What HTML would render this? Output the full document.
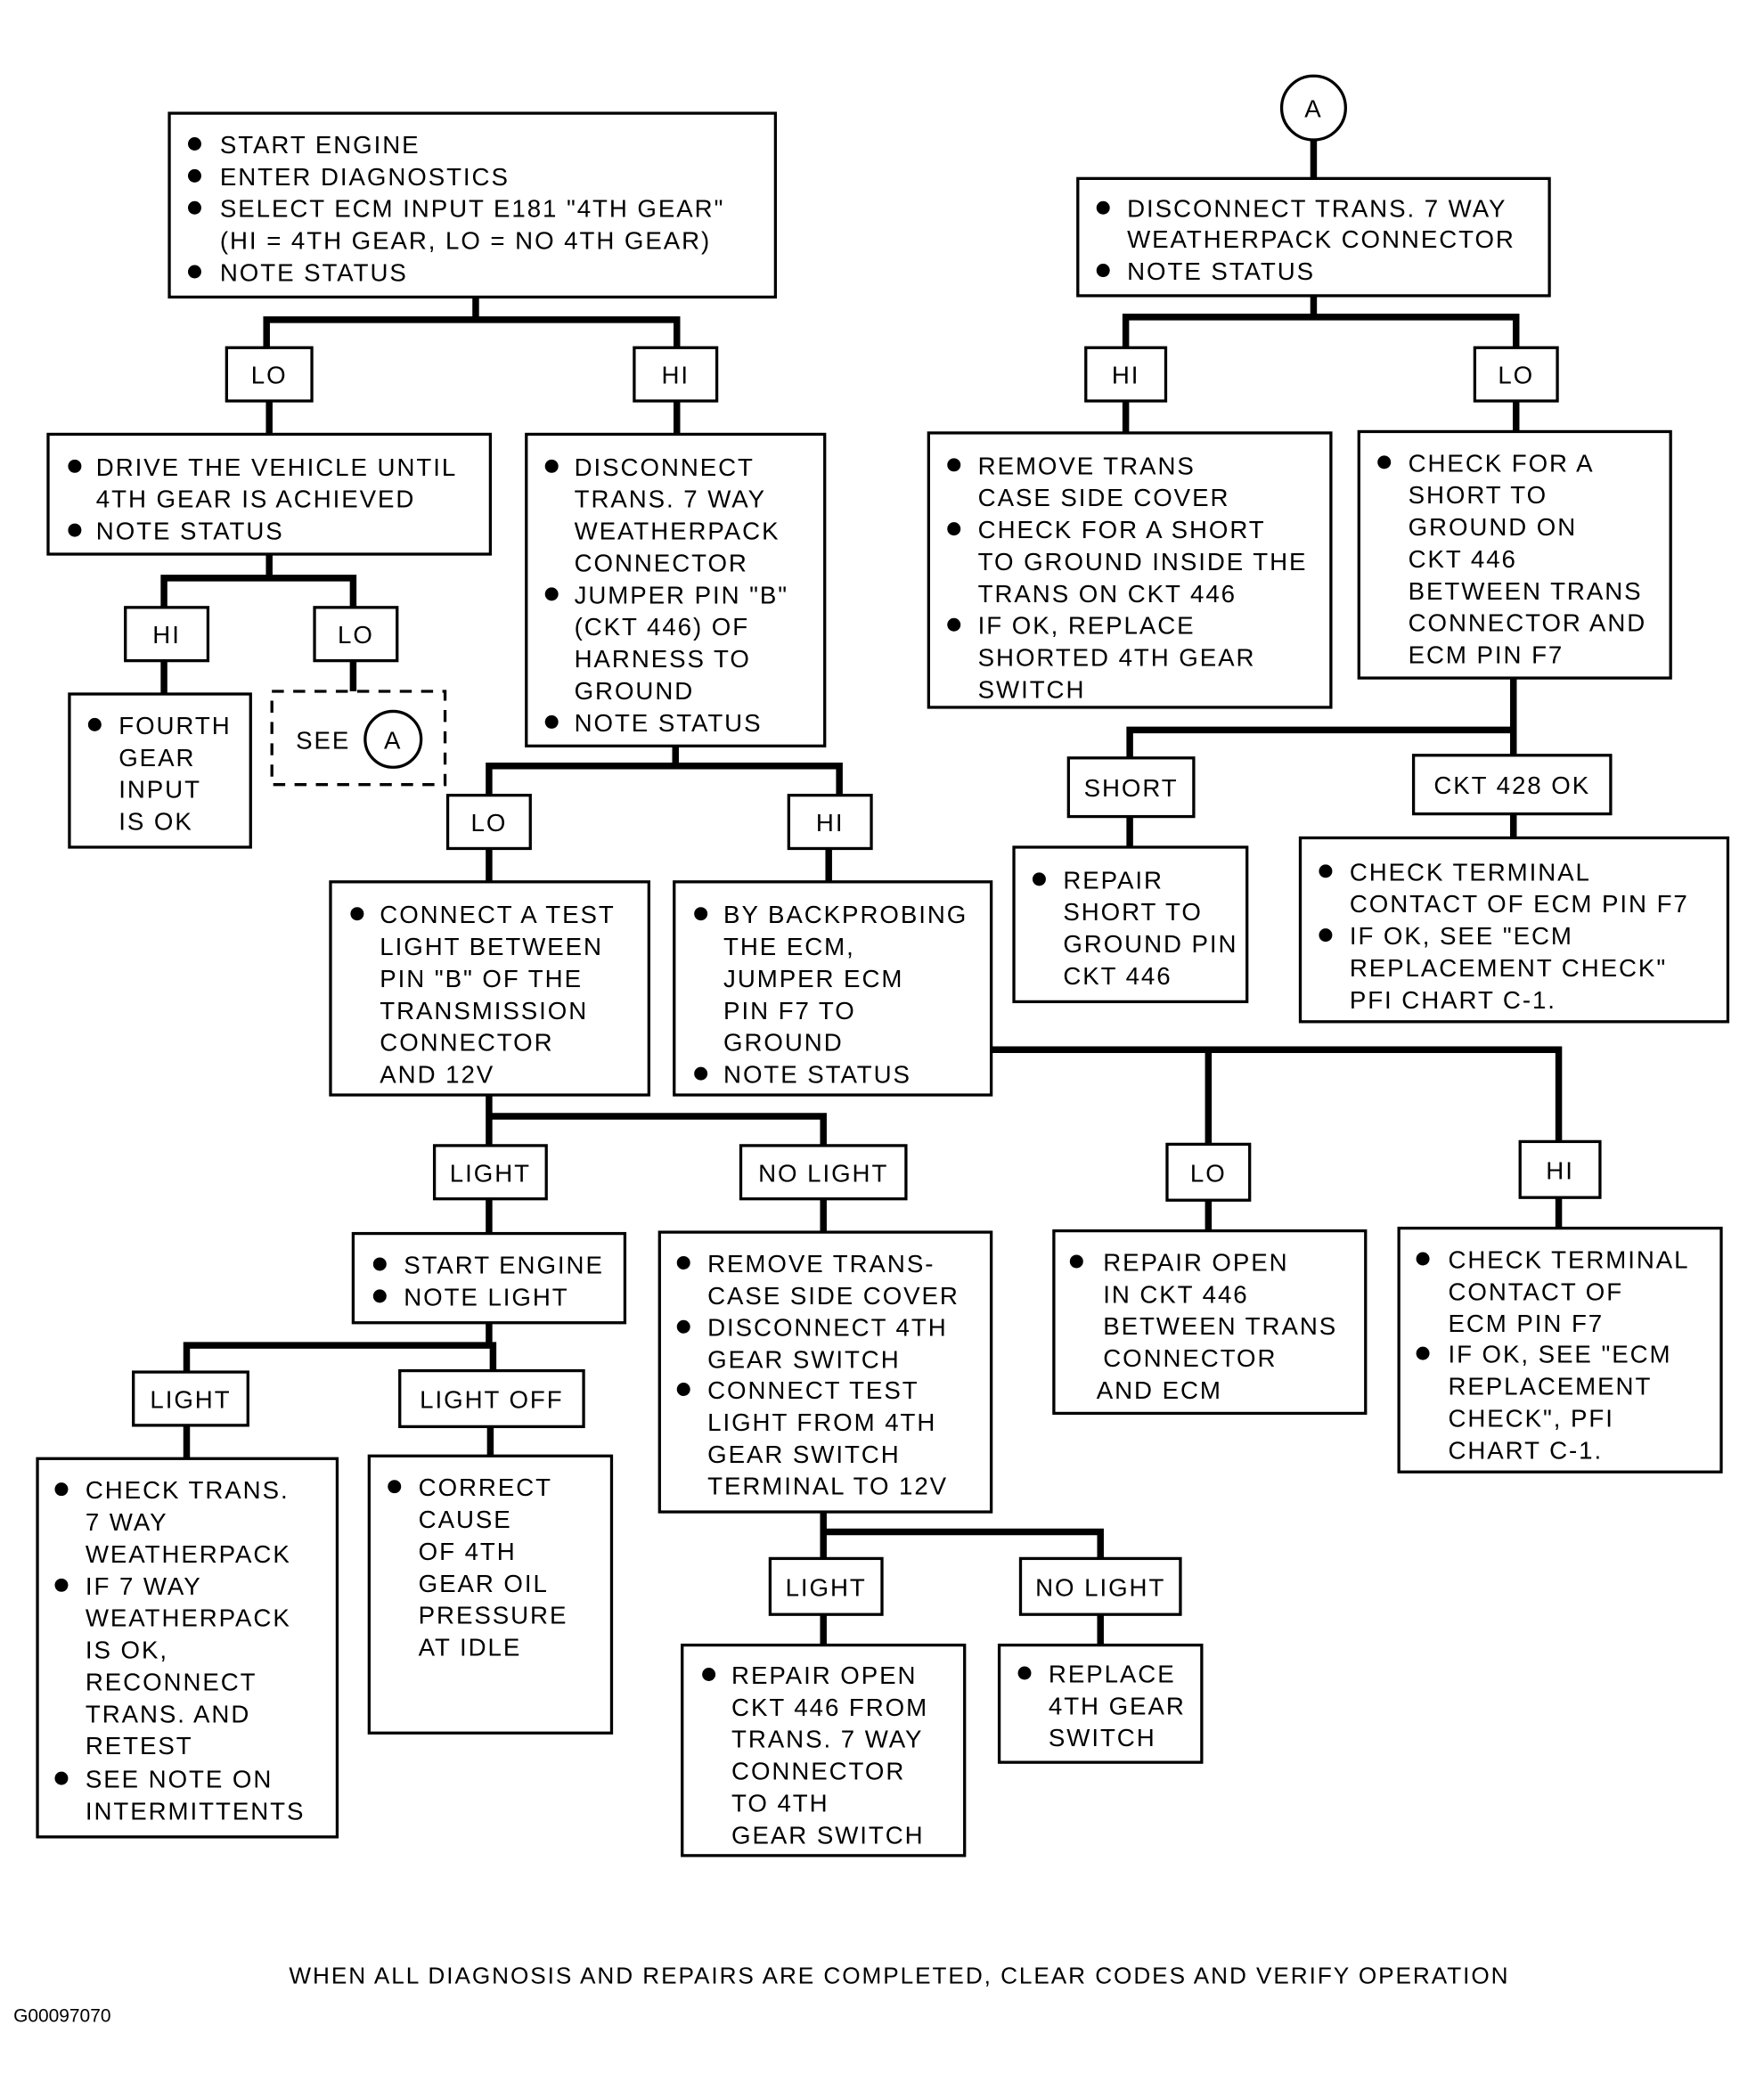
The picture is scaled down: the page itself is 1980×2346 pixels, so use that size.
<!DOCTYPE html>
<html><head><meta charset="utf-8"><style>
html,body{margin:0;padding:0;background:#fff;}
svg{display:block;}
text{font-family:"Liberation Sans",sans-serif;font-size:18.5px;letter-spacing:1.3px;fill:#000;}
.b{fill:none;stroke:#000;stroke-width:2.2;}
.c{fill:none;stroke:#000;stroke-width:5;}
</style></head><body>
<svg width="1980" height="2346" viewBox="0 0 1324 1569" xmlns="http://www.w3.org/2000/svg">
<rect width="1324" height="1569" fill="#fff"/>
<!-- connectors -->
<g class="c">
<path d="M357 223V240M200 261V240H508V261"/>
<path d="M202 301V326"/>
<path d="M202 416V434M123 456V434H265V456"/>
<path d="M123 496V521M265 496V519"/>
<path d="M508 301V326"/>
<path d="M507 560V575M367 597V575H630V597"/>
<path d="M367 637V662M622 637V662"/>
<path d="M367 822V838M367 860V838H618V860"/>
<path d="M744 788H1170V857M907 788V859"/>
<path d="M907 901V924M1170 899V922"/>
<path d="M367 900V926M618 900V925"/>
<path d="M367 993V1010M140 1030V1010H370V1029"/>
<path d="M140 1070V1095M368 1071V1093"/>
<path d="M618 1135V1150M618 1170V1150H826V1170"/>
<path d="M618 1212V1235M826 1212V1235"/>
<path d="M986 105V134M986 222V238M845 261V238H1138V261"/>
<path d="M845 301V325M1138 301V324"/>
<path d="M1136 509V548M848 569V548H1136V567"/>
<path d="M848 613V636M1136 611V629"/>
</g>
<!-- boxes -->
<g class="b">
<rect x="127" y="85" width="455" height="138"/>
<rect x="170" y="261" width="64" height="40"/>
<rect x="476" y="261" width="62" height="40"/>
<rect x="36" y="326" width="332" height="90"/>
<rect x="94" y="456" width="62" height="40"/>
<rect x="236" y="456" width="62" height="40"/>
<rect x="52" y="521" width="136" height="115"/>
<rect x="204" y="519" width="130" height="70" stroke-dasharray="9 7"/>
<circle cx="295" cy="555" r="21"/>
<rect x="395" y="326" width="224" height="234"/>
<rect x="336" y="597" width="62" height="40"/>
<rect x="592" y="597" width="62" height="40"/>
<rect x="248" y="662" width="239" height="160"/>
<rect x="506" y="662" width="238" height="160"/>
<rect x="326" y="860" width="84" height="40"/>
<rect x="556" y="860" width="124" height="40"/>
<rect x="876" y="859" width="62" height="42"/>
<rect x="1141" y="857" width="60" height="42"/>
<rect x="791" y="924" width="234" height="137"/>
<rect x="1050" y="922" width="242" height="183"/>
<rect x="265" y="926" width="204" height="67"/>
<rect x="100" y="1030" width="86" height="40"/>
<rect x="300" y="1029" width="138" height="42"/>
<rect x="28" y="1095" width="225" height="284"/>
<rect x="277" y="1093" width="182" height="208"/>
<rect x="495" y="925" width="249" height="210"/>
<rect x="578" y="1170" width="84" height="42"/>
<rect x="766" y="1170" width="120" height="42"/>
<rect x="512" y="1235" width="212" height="158"/>
<rect x="750" y="1235" width="152" height="88"/>
<circle cx="986" cy="81" r="24"/>
<rect x="809" y="134" width="354" height="88"/>
<rect x="815" y="261" width="60" height="40"/>
<rect x="1107" y="261" width="62" height="40"/>
<rect x="697" y="325" width="302" height="206"/>
<rect x="1020" y="324" width="234" height="185"/>
<rect x="802" y="569" width="94" height="44"/>
<rect x="1061" y="567" width="148" height="44"/>
<rect x="761" y="636" width="175" height="116"/>
<rect x="976" y="629" width="321" height="138"/>
</g>
<!-- labels -->
<g text-anchor="middle">
<text x="202" y="288">LO</text>
<text x="507" y="288">HI</text>
<text x="125" y="483">HI</text>
<text x="267" y="483">LO</text>
<text x="367" y="624">LO</text>
<text x="623" y="624">HI</text>
<text x="368" y="887">LIGHT</text>
<text x="618" y="887">NO LIGHT</text>
<text x="907" y="887">LO</text>
<text x="1171" y="885">HI</text>
<text x="143" y="1057">LIGHT</text>
<text x="369" y="1057">LIGHT OFF</text>
<text x="620" y="1198">LIGHT</text>
<text x="826" y="1198">NO LIGHT</text>
<text x="986" y="88">A</text>
<text x="845" y="288">HI</text>
<text x="1138" y="288">LO</text>
<text x="849" y="598">SHORT</text>
<text x="1135" y="596">CKT 428 OK</text>
<text x="295" y="562">A</text>
</g>
<text x="222" y="562">SEE</text>
<!-- bullets -->
<g>
<circle cx="146" cy="108" r="5"/><circle cx="146" cy="132" r="5"/><circle cx="146" cy="156" r="5"/><circle cx="146" cy="204" r="5"/>
<circle cx="56" cy="350" r="5"/><circle cx="56" cy="398" r="5"/>
<circle cx="71" cy="544" r="5"/>
<circle cx="414" cy="350" r="5"/><circle cx="414" cy="446" r="5"/><circle cx="414" cy="542" r="5"/>
<circle cx="268" cy="686" r="5"/>
<circle cx="526" cy="686" r="5"/><circle cx="526" cy="806" r="5"/>
<circle cx="285" cy="949" r="5"/><circle cx="285" cy="973" r="5"/>
<circle cx="46" cy="1118" r="5"/><circle cx="46" cy="1190" r="5"/><circle cx="46" cy="1335" r="5"/>
<circle cx="296" cy="1116" r="5"/>
<circle cx="513" cy="948" r="5"/><circle cx="513" cy="996" r="5"/><circle cx="513" cy="1043" r="5"/>
<circle cx="532" cy="1257" r="5"/>
<circle cx="769" cy="1256" r="5"/>
<circle cx="808" cy="947" r="5"/>
<circle cx="1068" cy="945" r="5"/><circle cx="1068" cy="1016" r="5"/>
<circle cx="828" cy="156" r="5"/><circle cx="828" cy="203" r="5"/>
<circle cx="716" cy="349" r="5"/><circle cx="716" cy="397" r="5"/><circle cx="716" cy="469" r="5"/>
<circle cx="1039" cy="347" r="5"/>
<circle cx="780" cy="660" r="5"/>
<circle cx="995" cy="654" r="5"/><circle cx="995" cy="702" r="5"/>
</g>
<!-- box text -->
<g>
<text x="165" y="115">START ENGINE</text>
<text x="165" y="139">ENTER DIAGNOSTICS</text>
<text x="165" y="163">SELECT ECM INPUT E181 "4TH GEAR"</text>
<text x="165" y="187">(HI = 4TH GEAR, LO = NO 4TH GEAR)</text>
<text x="165" y="211">NOTE STATUS</text>

<text x="72" y="357">DRIVE THE VEHICLE UNTIL</text>
<text x="72" y="381">4TH GEAR IS ACHIEVED</text>
<text x="72" y="405">NOTE STATUS</text>

<text x="89" y="551">FOURTH</text>
<text x="89" y="575">GEAR</text>
<text x="89" y="599">INPUT</text>
<text x="89" y="623">IS OK</text>

<text x="431" y="357">DISCONNECT</text>
<text x="431" y="381">TRANS. 7 WAY</text>
<text x="431" y="405">WEATHERPACK</text>
<text x="431" y="429">CONNECTOR</text>
<text x="431" y="453">JUMPER PIN "B"</text>
<text x="431" y="477">(CKT 446) OF</text>
<text x="431" y="501">HARNESS TO</text>
<text x="431" y="525">GROUND</text>
<text x="431" y="549">NOTE STATUS</text>

<text x="285" y="693">CONNECT A TEST</text>
<text x="285" y="717">LIGHT BETWEEN</text>
<text x="285" y="741">PIN "B" OF THE</text>
<text x="285" y="765">TRANSMISSION</text>
<text x="285" y="789">CONNECTOR</text>
<text x="285" y="813">AND 12V</text>

<text x="543" y="693">BY BACKPROBING</text>
<text x="543" y="717">THE ECM,</text>
<text x="543" y="741">JUMPER ECM</text>
<text x="543" y="765">PIN F7 TO</text>
<text x="543" y="789">GROUND</text>
<text x="543" y="813">NOTE STATUS</text>

<text x="303" y="956">START ENGINE</text>
<text x="303" y="980">NOTE LIGHT</text>

<text x="64" y="1125">CHECK TRANS.</text>
<text x="64" y="1149">7 WAY</text>
<text x="64" y="1173">WEATHERPACK</text>
<text x="64" y="1197">IF 7 WAY</text>
<text x="64" y="1221">WEATHERPACK</text>
<text x="64" y="1245">IS OK,</text>
<text x="64" y="1269">RECONNECT</text>
<text x="64" y="1293">TRANS. AND</text>
<text x="64" y="1317">RETEST</text>
<text x="64" y="1342">SEE NOTE ON</text>
<text x="64" y="1366">INTERMITTENTS</text>

<text x="314" y="1123">CORRECT</text>
<text x="314" y="1147">CAUSE</text>
<text x="314" y="1171">OF 4TH</text>
<text x="314" y="1195">GEAR OIL</text>
<text x="314" y="1219">PRESSURE</text>
<text x="314" y="1243">AT IDLE</text>

<text x="531" y="955">REMOVE TRANS-</text>
<text x="531" y="979">CASE SIDE COVER</text>
<text x="531" y="1003">DISCONNECT 4TH</text>
<text x="531" y="1027">GEAR SWITCH</text>
<text x="531" y="1050">CONNECT TEST</text>
<text x="531" y="1074">LIGHT FROM 4TH</text>
<text x="531" y="1098">GEAR SWITCH</text>
<text x="531" y="1122">TERMINAL TO 12V</text>

<text x="549" y="1264">REPAIR OPEN</text>
<text x="549" y="1288">CKT 446 FROM</text>
<text x="549" y="1312">TRANS. 7 WAY</text>
<text x="549" y="1336">CONNECTOR</text>
<text x="549" y="1360">TO 4TH</text>
<text x="549" y="1384">GEAR SWITCH</text>

<text x="787" y="1263">REPLACE</text>
<text x="787" y="1287">4TH GEAR</text>
<text x="787" y="1311">SWITCH</text>

<text x="828" y="954">REPAIR OPEN</text>
<text x="828" y="978">IN CKT 446</text>
<text x="828" y="1002">BETWEEN TRANS</text>
<text x="828" y="1026">CONNECTOR</text>
<text x="823" y="1050">AND ECM</text>

<text x="1087" y="952">CHECK TERMINAL</text>
<text x="1087" y="976">CONTACT OF</text>
<text x="1087" y="1000">ECM PIN F7</text>
<text x="1087" y="1023">IF OK, SEE "ECM</text>
<text x="1087" y="1047">REPLACEMENT</text>
<text x="1087" y="1071">CHECK", PFI</text>
<text x="1087" y="1095">CHART  C-1.</text>

<text x="846" y="163">DISCONNECT TRANS. 7 WAY</text>
<text x="846" y="186">WEATHERPACK CONNECTOR</text>
<text x="846" y="210">NOTE STATUS</text>

<text x="734" y="356">REMOVE TRANS</text>
<text x="734" y="380">CASE SIDE COVER</text>
<text x="734" y="404">CHECK FOR A SHORT</text>
<text x="734" y="428">TO GROUND INSIDE THE</text>
<text x="734" y="452">TRANS ON CKT 446</text>
<text x="734" y="476">IF OK, REPLACE</text>
<text x="734" y="500">SHORTED 4TH GEAR</text>
<text x="734" y="524">SWITCH</text>

<text x="1057" y="354">CHECK FOR A</text>
<text x="1057" y="378">SHORT TO</text>
<text x="1057" y="402">GROUND ON</text>
<text x="1057" y="426">CKT 446</text>
<text x="1057" y="450">BETWEEN TRANS</text>
<text x="1057" y="474">CONNECTOR AND</text>
<text x="1057" y="498">ECM PIN F7</text>

<text x="798" y="667">REPAIR</text>
<text x="798" y="691">SHORT TO</text>
<text x="798" y="715">GROUND PIN</text>
<text x="798" y="739">CKT 446</text>

<text x="1013" y="661">CHECK TERMINAL</text>
<text x="1013" y="685">CONTACT OF ECM PIN F7</text>
<text x="1013" y="709">IF OK, SEE "ECM</text>
<text x="1013" y="733">REPLACEMENT CHECK"</text>
<text x="1013" y="757">PFI CHART C-1.</text>

<text x="675" y="1489" text-anchor="middle" style="font-size:17.5px">WHEN ALL DIAGNOSIS AND REPAIRS ARE COMPLETED, CLEAR CODES AND VERIFY OPERATION</text>
<text x="10" y="1518" style="font-size:14px;letter-spacing:0">G00097070</text>
</g>
</svg>
</body></html>
